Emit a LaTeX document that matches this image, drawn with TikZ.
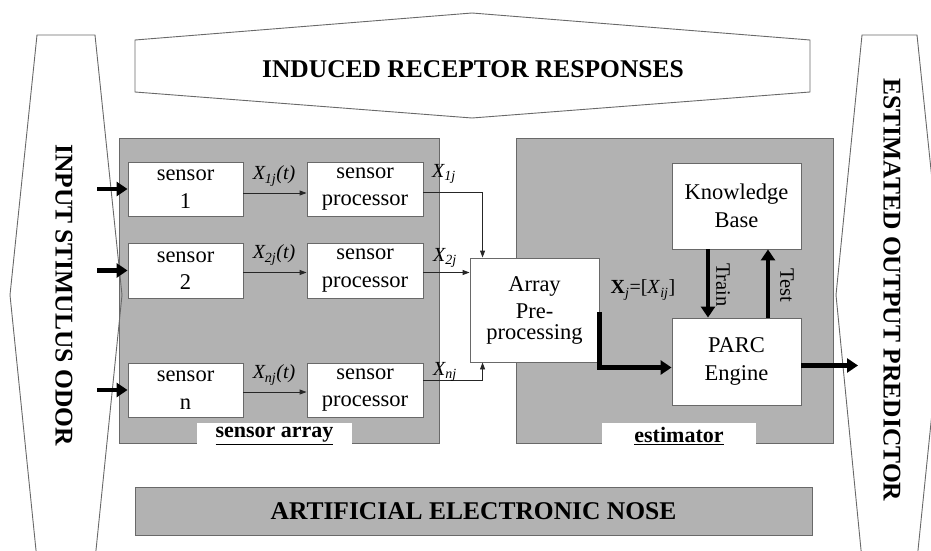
\documentclass[tikz,border=0pt]{standalone}
\usepackage{fontspec}
\setmainfont{Liberation Serif}
\usetikzlibrary{arrows.meta,calc}
\definecolor{panelgray}{RGB}{178,178,178}
\definecolor{edgegray}{RGB}{105,105,105}
\begin{document}
\begin{tikzpicture}[x=1pt,y=-1pt,
  outline/.style={draw=edgegray, line width=0.9pt, line join=miter},
  panel/.style={fill=panelgray, draw=edgegray, line width=0.9pt},
  box/.style={draw=edgegray, fill=white, line width=0.9pt, align=center, inner sep=0pt, font=\fontsize{22.5}{27.5}\selectfont},
  bigtext/.style={font=\bfseries\fontsize{25.5}{29}\selectfont},
  tablabel/.style={font=\bfseries\fontsize{22}{26}\selectfont, inner sep=0pt},
  fat/.style={line width=4.5pt, -{Triangle[length=11pt,width=14pt]}},
  thinarrow/.style={draw=black!85, line width=0.9pt, -{Triangle[length=7pt,width=5pt]}},
  lab/.style={font=\itshape\fontsize{20}{24}\selectfont, inner sep=0pt},
  sidelab/.style={font=\fontsize{20.5}{24}\selectfont, inner sep=0pt, rotate=-90}
]
\useasboundingbox (0,0) rectangle (931,551);
\clip (0,0) rectangle (931,551);
\fill[white] (0,0) rectangle (931,551);

% panels
\node[panel, minimum width=320pt, minimum height=305pt] (sa) at (279,290.5) {};
\node[panel, minimum width=317pt, minimum height=305pt] (est) at (674.5,290.5) {};
\node[fill=white, minimum width=155pt, minimum height=23pt, inner sep=0pt] (satab) at (274.5,434) {};
\node[fill=white, minimum width=154pt, minimum height=23pt, inner sep=0pt] (esttab) at (679,434) {};
\node[tablabel] (salabel) at (274.5,436) {\underline{sensor array}};
\node[tablabel] (estlabel) at (679,436) {\underline{estimator}};

% outer shapes
\draw[outline] (37,35) -- (95,35) -- (122,295) -- (95,560) -- (37,560) -- (10,295) -- cycle;
\draw[outline] (862,35) -- (917,35) -- (944,295) -- (917,560) -- (862,560) -- (836,295) -- cycle;
\draw[outline] (135,40) -- (472,13) -- (810,40) -- (810,92) -- (472,118) -- (135,92) -- cycle;
\node[bigtext] (induced) at (473,69) {INDUCED RECEPTOR RESPONSES};
\node[bigtext, rotate=-90] (input) at (64,295) {INPUT STIMULUS ODOR};
\node[bigtext, rotate=-90] (estout) at (892,290) {ESTIMATED OUTPUT PREDICTOR};
\node[panel, bigtext, minimum width=677pt, minimum height=48pt] (nose) at (473.5,511) {ARTIFICIAL ELECTRONIC NOSE};

% sensor boxes
\node[box, minimum width=115pt, minimum height=54pt] (s1) at (185.5,189) {sensor\\1};
\node[box, minimum width=115pt, minimum height=55pt] (s2) at (185.5,270.5) {sensor\\2};
\node[box, minimum width=115pt, minimum height=54pt] (s3) at (185.5,390) {sensor\\n};
\node[box, minimum width=116pt, minimum height=54pt] (p1) at (365,189) {sensor\\processor};
\node[box, minimum width=116pt, minimum height=55pt] (p2) at (365,270.5) {sensor\\processor};
\node[box, minimum width=116pt, minimum height=54pt] (p3) at (365,390) {sensor\\processor};
\node[box, minimum width=129pt, minimum height=104pt] (arr) at (534.5,310) {Array\\Pre-\\[-7pt]processing};
\node[box, minimum width=129pt, minimum height=86pt] (kb) at (736.5,206) {Knowledge\\Base};
\node[box, minimum width=129pt, minimum height=87pt] (parc) at (736.5,361.5) {PARC\\Engine};

% input arrows
\coordinate (in1) at (97,189);
\coordinate (in2) at (97,270.5);
\coordinate (in3) at (97,390);
\draw[fat] (in1) -- (s1.west);
\draw[fat] (in2) -- (s2.west);
\draw[fat] (in3) -- (s3.west);

% sensor -> processor
\draw[thinarrow] ($(s1.east)+(0,4)$) -- ($(p1.west)+(0,4)$);
\draw[thinarrow] ($(s2.east)+(0,2)$) -- ($(p2.west)+(0,2)$);
\draw[thinarrow] ($(s3.east)+(0,2)$) -- ($(p3.west)+(0,2)$);
\node[lab] (l1) at (274,176) {X\textsubscript{1j}(t)};
\node[lab] (l2) at (274,255) {X\textsubscript{2j}(t)};
\node[lab] (l3) at (274,375) {X\textsubscript{nj}(t)};

% processor -> array
\draw[thinarrow] ($(p1.east)+(0,3)$) -| ($(arr.north west)+(13,0)$);
\draw[thinarrow] ($(p2.east)+(0,2)$) -- ($(arr.west)+(0,-37.5)$);
\draw[thinarrow] ($(p3.east)+(0,-10)$) -| ($(arr.south west)+(13,0)$);
\node[lab] (o1) at (444,174) {X\textsubscript{1j}};
\node[lab] (o2) at (445,258) {X\textsubscript{2j}};
\node[lab] (o3) at (445,372) {X\textsubscript{nj}};

% array -> parc
\coordinate (bend) at (633,0);
\draw[fat] ($(arr.east)+(0,2)$) -- ($(arr.east)+(0,2)$ -| bend) |- ($(parc.west)+(0,6)$);
\node[font=\fontsize{20}{24}\selectfont, inner sep=0pt] (xj) at (643,290) {\textbf{X}\textsubscript{\textit{j}}=[\textit{X}\textsubscript{\textit{ij}}]};

% train / test
\draw[fat] ($(kb.south)+(-28.5,0)$) -- ($(parc.north)+(-28.5,0)$);
\draw[fat] ($(parc.north)+(31.5,0)$) -- ($(kb.south)+(31.5,0)$);
\node[sidelab] (train) at (723,285) {Train};
\node[sidelab] (test) at (787,285) {Test};

% output
\coordinate (out) at (858,365.5);
\draw[fat] ($(parc.east)+(0,4)$) -- (out);
\end{tikzpicture}
\end{document}
